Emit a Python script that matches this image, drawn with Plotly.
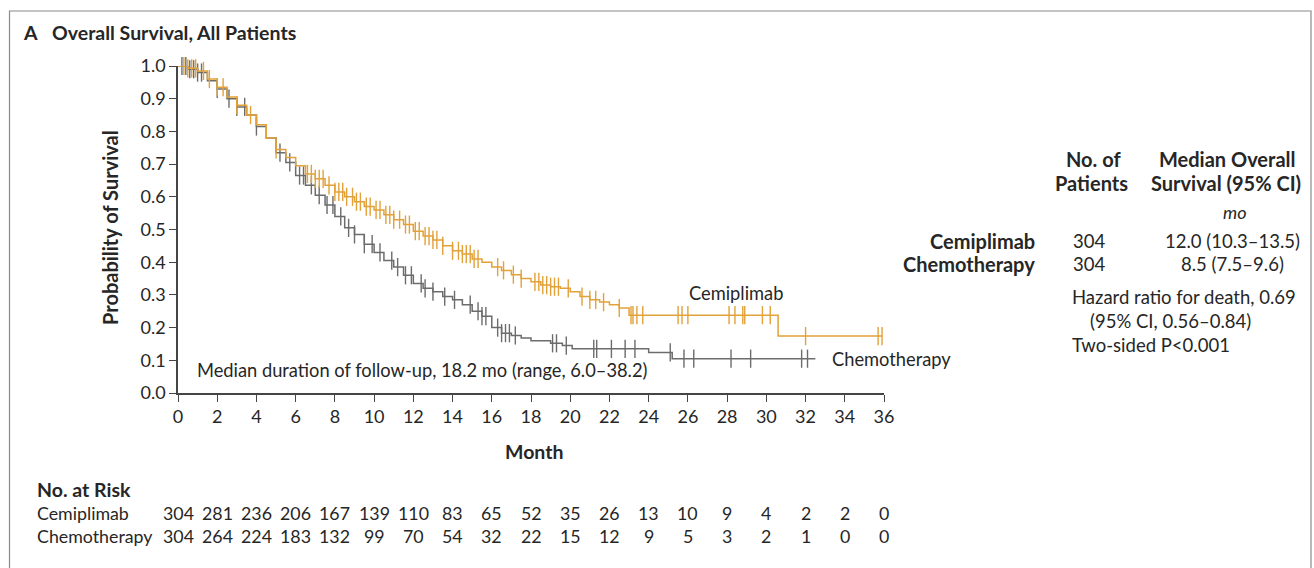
import numpy as np
import plotly.graph_objects as go

# Kaplan-Meier step points (month, survival probability)
cemi_t = [0, 0.5, 1.0, 1.5, 2.0, 2.5, 3.0, 3.5, 4.0, 4.5, 5.0, 5.5, 6.0, 6.5, 7.0, 7.5,
          8.0, 8.5, 9.0, 9.5, 10.0, 10.5, 11.0, 11.5, 12.0, 12.5, 13.0, 13.5, 14.0, 14.5,
          15.0, 15.5, 16.0, 16.5, 17.0, 17.5, 18.0, 18.5, 19.0, 19.5, 20.0, 20.5, 21.0,
          21.5, 22.0, 22.5, 23.0, 30.6]
cemi_s = [1.0, 0.993, 0.985, 0.96, 0.935, 0.905, 0.88, 0.85, 0.82, 0.78, 0.745, 0.72,
          0.695, 0.67, 0.655, 0.635, 0.615, 0.60, 0.585, 0.57, 0.56, 0.545, 0.53, 0.515,
          0.495, 0.48, 0.468, 0.45, 0.435, 0.425, 0.41, 0.40, 0.385, 0.375, 0.362, 0.35,
          0.34, 0.33, 0.325, 0.32, 0.31, 0.295, 0.285, 0.278, 0.27, 0.26, 0.238, 0.174]
cemi_end = 35.9
cemi_cens = [0.3, 0.5, 0.7, 0.9, 1.3, 1.6, 2.0, 2.3, 3.0, 3.7, 5.0, 6.6, 6.8, 7.0, 7.2,
             7.4, 7.7, 8.0, 8.2, 8.4, 8.6, 8.9, 9.1, 9.3, 9.6, 9.8, 10.1, 10.3, 10.6, 10.8,
             11.0, 11.3, 11.6, 11.8, 12.1, 12.3, 12.6, 12.8, 13.0, 13.2, 13.5, 14.0, 14.3,
             14.5, 14.7, 14.9, 15.1, 15.3, 16.3, 16.6, 17.1, 17.5, 18.2, 18.4, 18.6, 18.8,
             19.0, 19.2, 19.4, 19.9, 20.6, 21.0, 21.3, 21.7, 22.5, 23.1, 23.2, 23.4, 23.7,
             25.5, 25.7, 26.0, 28.1, 28.4, 28.8, 28.9, 29.8, 30.2, 32.0, 35.7, 35.9]

chemo_t = [0, 0.5, 1.0, 1.5, 2.0, 2.5, 3.0, 3.5, 4.0, 4.5, 5.0, 5.5, 6.0, 6.5, 7.0, 7.5,
           8.0, 8.5, 9.0, 9.5, 10.0, 10.5, 11.0, 11.5, 12.0, 12.5, 13.0, 13.5, 14.0, 14.5,
           15.0, 15.5, 16.0, 16.5, 17.0, 17.5, 18.0, 19.0, 19.6, 20.1, 24.0, 25.2]
chemo_s = [1.0, 0.99, 0.98, 0.955, 0.93, 0.90, 0.875, 0.85, 0.815, 0.78, 0.735, 0.705,
           0.665, 0.635, 0.605, 0.575, 0.54, 0.505, 0.485, 0.455, 0.43, 0.405, 0.385, 0.36,
           0.335, 0.32, 0.31, 0.295, 0.285, 0.27, 0.25, 0.235, 0.20, 0.183, 0.176, 0.168,
           0.16, 0.152, 0.145, 0.135, 0.124, 0.105]
chemo_end = 32.5
chemo_cens = [0.2, 0.4, 0.6, 0.8, 1.0, 1.2, 2.0, 2.6, 3.0, 3.4, 4.0, 5.2, 5.7, 6.2, 6.4,
              6.8, 7.2, 7.6, 7.9, 8.3, 8.7, 9.0, 9.5, 9.9, 10.3, 10.9, 11.2, 11.6, 11.9,
              12.4, 12.6, 13.0, 13.6, 14.1, 14.9, 15.3, 15.5, 15.7, 16.3, 16.5, 16.7, 16.9,
              17.2, 19.1, 19.3, 19.8, 21.2, 21.35, 22.1, 22.8, 23.3, 25.1, 25.8, 26.3, 28.2,
              29.2, 31.8, 32.1]

# Number at risk table
risk_months = list(range(0, 37, 2))
risk_cemi = [304, 281, 236, 206, 167, 139, 110, 83, 65, 52, 35, 26, 13, 10, 9, 4, 2, 2, 0]
risk_chemo = [304, 264, 224, 183, 132, 99, 70, 54, 32, 22, 15, 12, 9, 5, 3, 2, 1, 0, 0]

ORANGE = "#E2A139"
GRAY = "#6C6C6C"
TXT = "#262626"
AXIS = "#454545"
FONT = "Lato"

W, H = 1314, 568
L, T, PW, PH = 178, 66, 706, 327


def paper(px, py):
    return (px - L) / PW, (T + PH - py) / PH


def step_value(times, surv, t):
    idx = np.searchsorted(np.asarray(times), t, side="right") - 1
    return np.asarray(surv)[idx]


fig = go.Figure()

for times, surv, end, cens, col in [
    (chemo_t, chemo_s, chemo_end, chemo_cens, GRAY),
    (cemi_t, cemi_s, cemi_end, cemi_cens, ORANGE),
]:
    xs = list(times) + [end]
    ys = list(surv) + [surv[-1]]
    fig.add_trace(go.Scatter(x=xs, y=ys, mode="lines", line=dict(color=col, width=1.5, shape="hv"),
                             showlegend=False, hoverinfo="skip", cliponaxis=False))
    cy = [step_value(times, surv, c) for c in cens]
    fig.add_trace(go.Scatter(x=cens, y=cy, mode="markers",
                             marker=dict(symbol="line-ns-open", size=13, color=col,
                                         line=dict(color=col, width=1.4)),
                             showlegend=False, hoverinfo="skip", cliponaxis=False))

ann = []


def text(px, py, s, size=18, bold=False, italic=False, xanchor="left", angle=0):
    x, y = paper(px, py)
    if bold:
        s = "<b>" + s + "</b>"
    if italic:
        s = "<i>" + s + "</i>"
    ann.append(dict(x=x, y=y, xref="paper", yref="paper", text=s, showarrow=False,
                    xanchor=xanchor, yanchor="middle", textangle=angle,
                    font=dict(family=FONT, size=size, color=TXT)))


# Panel heading
text(21, 33, "A", size=19.5, bold=True)
text(50, 33, "Overall Survival, All Patients", size=19.5, bold=True)

# Axis titles
text(110, 228, "Probability of Survival", size=20, bold=True, xanchor="center", angle=-90)
text(534, 451, "Month", size=19.5, bold=True, xanchor="center")

# Curve labels and follow-up note
text(195, 370, "Median duration of follow-up, 18.2 mo (range, 6.0–38.2)", size=18.3)
text(687, 293, "Cemiplimab", size=18.3)
text(830, 359, "Chemotherapy", size=18.3)

# Summary table on the right
text(1093, 159, "No. of", size=20, bold=True, xanchor="center")
text(1091, 183, "Patients", size=20, bold=True, xanchor="center")
text(1227, 159, "Median Overall", size=20, bold=True, xanchor="center")
text(1226, 183, "Survival (95% CI)", size=20, bold=True, xanchor="center")
text(1235, 212, "mo", size=18, italic=True, xanchor="center")
text(1037, 241, "Cemiplimab", size=20, bold=True, xanchor="right")
text(1037, 264, "Chemotherapy", size=20, bold=True, xanchor="right")
text(1089, 241, "304", size=18.5, xanchor="center")
text(1089, 264, "304", size=18.5, xanchor="center")
text(1232, 241, "12.0 (10.3–13.5)", size=18.5, xanchor="center")
text(1232, 264, "8.5 (7.5–9.6)", size=18.5, xanchor="center")
text(1070, 297, "Hazard ratio for death, 0.69", size=18.5)
text(1088, 321, "(95% CI, 0.56–0.84)", size=18.5)
text(1070, 345, "Two-sided P<0.001", size=18.5)

# Number at risk
text(35, 489, "No. at Risk", size=19.5, bold=True)
text(35, 513, "Cemiplimab", size=17.8)
text(35, 536, "Chemotherapy", size=17.8)
_, y1 = paper(0, 513)
_, y2 = paper(0, 536)
for m, a, b in zip(risk_months, risk_cemi, risk_chemo):
    ann.append(dict(x=m, y=y1, xref="x", yref="paper", text=str(a), showarrow=False,
                    xanchor="center", yanchor="middle", font=dict(family=FONT, size=17.8, color=TXT)))
    ann.append(dict(x=m, y=y2, xref="x", yref="paper", text=str(b), showarrow=False,
                    xanchor="center", yanchor="middle", font=dict(family=FONT, size=17.8, color=TXT)))

# Panel frame
x0, y0 = paper(9.5, 11)
x1, y1b = paper(1311, 575)

fig.update_layout(
    width=W, height=H,
    margin=dict(l=L, r=W - L - PW, t=T, b=H - T - PH),
    paper_bgcolor="white", plot_bgcolor="white",
    annotations=ann,
    shapes=[dict(type="rect", xref="paper", yref="paper", x0=x0, y0=y1b, x1=x1, y1=y0,
                 line=dict(color="#8a8a8a", width=1.2), layer="below")],
    xaxis=dict(range=[0, 36], tickmode="array", tickvals=list(range(0, 37, 2)),
               showline=True, linecolor=AXIS, linewidth=1.6, ticks="outside",
               ticklen=7, tickwidth=1.4, tickcolor=AXIS, showgrid=False, zeroline=False,
               tickfont=dict(family=FONT, size=18, color=TXT)),
    yaxis=dict(range=[0, 1], tickmode="array", tickvals=[i / 10 for i in range(11)],
               tickformat=".1f", showline=True, linecolor=AXIS, linewidth=1.6,
               ticks="outside", ticklen=7, tickwidth=1.4, tickcolor=AXIS,
               showgrid=False, zeroline=False,
               tickfont=dict(family=FONT, size=18, color=TXT)),
)

fig.write_html("out.html")
